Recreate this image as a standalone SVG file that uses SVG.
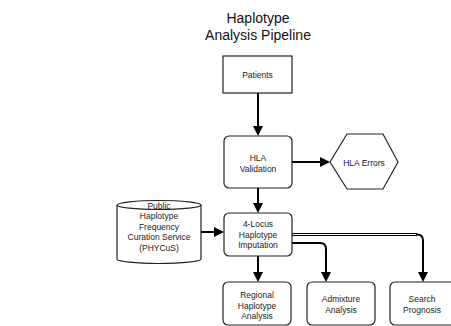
<svg xmlns="http://www.w3.org/2000/svg" width="451" height="326" viewBox="0 0 451 326">
<style>
.node{fill:#fff;stroke:#222;stroke-width:1.2}
.t{font-family:"Liberation Sans",Arial,sans-serif;font-size:8.5px;fill:#222;text-anchor:middle}
.title{font-family:"Liberation Sans",Arial,sans-serif;font-size:14px;fill:#111;text-anchor:middle}
.edge{fill:none;stroke:#000;stroke-width:2}
</style>
<defs>
<marker id="ah" viewBox="0 0 10 10" refX="7" refY="5" markerWidth="10" markerHeight="10" markerUnits="userSpaceOnUse" orient="auto">
<path d="M0,0 L10,5 L0,10 z" fill="#000"/>
</marker>
</defs>
<g id="title">
<text class="title" x="258" y="23">Haplotype</text>
<text class="title" x="258" y="40">Analysis Pipeline</text>
</g>
<g id="connectors">
<path class="edge" d="M258,93 V133" marker-end="url(#ah)"/>
<path class="edge" d="M292,162 H327" marker-end="url(#ah)"/>
<path class="edge" d="M258,188 V210" marker-end="url(#ah)"/>
<path class="edge" d="M201,232 H221" marker-end="url(#ah)"/>
<path class="edge" d="M258,256 V279" marker-end="url(#ah)"/>
<path class="edge" d="M292,243 H320 Q326,243 326,249 V279" marker-end="url(#ah)"/>
<path class="edge" d="M292,234.5 H417 Q423,234.5 423,240.5 V279" marker-end="url(#ah)"/>
<path d="M292,234.5 H417" fill="none" stroke="#000" stroke-width="3"/>
<path d="M292.6,234.5 H416" fill="none" stroke="#fff" stroke-width="1"/>
</g>
<g id="patients">
<rect class="node" x="223" y="56" width="69" height="37"/>
<text class="t" x="257.5" y="78">Patients</text>
</g>
<g id="hla-validation">
<rect class="node" x="224" y="136" width="68" height="52" rx="5"/>
<text class="t" x="258" y="160.5">HLA</text>
<text class="t" x="258" y="172">Validation</text>
</g>
<g id="hla-errors">
<polygon class="node" points="330,162 347,134 383,134 398,162 383,189 347,189"/>
<text class="t" x="364" y="165.5">HLA Errors</text>
</g>
<g id="phycus">
<path class="node" d="M117,205 A42,4.5 0 0 1 201,205 V259 A42,4.5 0 0 1 117,259 Z"/>
<path d="M117,205 A42,4.5 0 0 0 201,205" fill="none" stroke="#222" stroke-width="1.2"/>
<text class="t" x="159" y="208.5">Public</text>
<text class="t" x="159" y="219">Haplotype</text>
<text class="t" x="159" y="229.5">Frequency</text>
<text class="t" x="159" y="240">Curation Service</text>
<text class="t" x="159" y="250.5">(PHYCuS)</text>
</g>
<g id="imputation">
<rect class="node" x="224" y="213" width="68" height="43" rx="5"/>
<text class="t" x="258" y="227">4-Locus</text>
<text class="t" x="258" y="237.5">Haplotype</text>
<text class="t" x="258" y="248">Imputation</text>
</g>
<g id="regional">
<rect class="node" x="223" y="282" width="68" height="43" rx="5"/>
<text class="t" x="257" y="298">Regional</text>
<text class="t" x="257" y="308.5">Haplotype</text>
<text class="t" x="257" y="319">Analysis</text>
</g>
<g id="admixture">
<rect class="node" x="307" y="282" width="68" height="43" rx="5"/>
<text class="t" x="341" y="302">Admixture</text>
<text class="t" x="341" y="313">Analysis</text>
</g>
<g id="search">
<rect class="node" x="390" y="282" width="68" height="43" rx="5"/>
<text class="t" x="422" y="302">Search</text>
<text class="t" x="422" y="313">Prognosis</text>
</g>
</svg>
